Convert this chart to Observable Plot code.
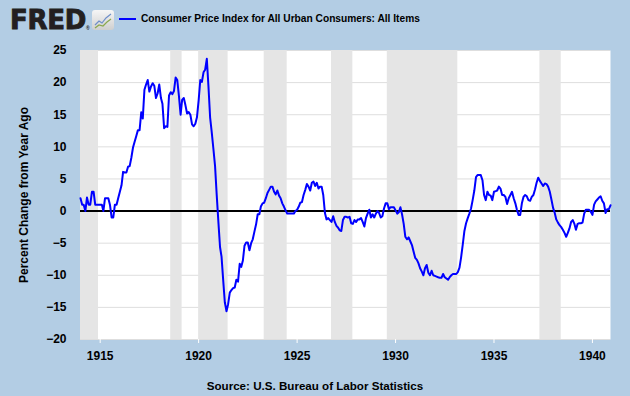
<!DOCTYPE html>
<html>
<head>
<meta charset="utf-8">
<script src="https://cdn.jsdelivr.net/npm/d3@7"></script>
<script src="https://cdn.jsdelivr.net/npm/@observablehq/plot@0.6"></script>
<style>
  html, body { margin: 0; padding: 0; background: #b3cde4; }
  #wrap { position: relative; width: 630px; height: 396px; background: #b3cde4; overflow: hidden;
          font-family: "Liberation Sans", Arial, sans-serif; font-weight: bold; color: #000; }
  #chart { position: absolute; left: 0; top: 0; }
  .abs { position: absolute; white-space: nowrap; }
  #logo { left: 10px; top: 5px; font-family: "DejaVu Sans", sans-serif; font-weight: bold; font-size: 26px;
          line-height: 30px; color: #231f20; letter-spacing: -0.3px; -webkit-text-stroke: 0.9px #231f20; }
  #reg { left: 86px; top: 25px; font-size: 5px; color: #231f20; }
  #icon { left: 92px; top: 10px; width: 22px; height: 20px; border-radius: 3px;
          background: linear-gradient(#f6f6f6, #cfcfcf); }
  #legline { left: 119px; top: 18px; width: 17px; height: 2px; background: #0000ff; }
  #legtext { left: 141px; top: 13px; font-size: 10.2px; line-height: 12px; }
  #source { left: 0; width: 630px; top: 379px; text-align: center; font-size: 11.6px; line-height: 14px; }
</style>
</head>
<body>
<div id="wrap">
  <div id="chart"></div>
  <div class="abs" id="logo">FRED</div>
  <div class="abs" id="reg">®</div>
  <div class="abs" id="icon"><svg width="22" height="20"><polyline points="3,15 7,11 10,13 14,8 19,4" fill="none" stroke="#6f8fc9" stroke-width="1.2"/><polyline points="3,18 7,15 11,16 15,12 19,9" fill="none" stroke="#8aa84e" stroke-width="1.2"/></svg></div>
  <div class="abs" id="legline"></div>
  <div class="abs" id="legtext">Consumer Price Index for All Urban Consumers: All Items</div>
  <div class="abs" id="source">Source: U.S. Bureau of Labor Statistics</div>
</div>
<script>
// Percent change from year ago, monthly (Jan..Dec)
const y1914 = [2.0, 1.0, 1.0, 0.0, 2.1, 1.0, 1.0, 3.0, 3.0, 1.0, 1.0, 1.0];
const y1915 = [1.0, 1.0, 0.0, 2.0, 2.0, 2.0, 1.0, -1.0, -1.0, 1.0, 1.0, 2.0];
const y1916 = [3.0, 4.0, 6.1, 6.0, 6.0, 6.9, 7.0, 8.3, 9.9, 10.8, 11.7, 12.6];
const y1917 = [12.6, 15.4, 14.4, 18.9, 19.7, 20.4, 18.6, 19.4, 19.9, 19.5, 17.6, 18.3];
const y1918 = [19.7, 17.6, 16.7, 12.9, 13.2, 13.1, 18.0, 18.5, 18.2, 18.7, 20.8, 20.4];
const y1919 = [17.9, 15.0, 17.3, 17.6, 16.5, 15.2, 15.4, 15.0, 13.5, 13.2, 13.6, 14.6];
const y1920 = [17.2, 20.4, 20.1, 21.6, 22.0, 23.7, 19.5, 14.6, 12.2, 9.7, 7.0, 2.6];
const y1921 = [-1.6, -5.6, -7.1, -10.8, -14.2, -15.6, -14.5, -12.7, -12.3, -12.0, -11.9, -10.7];
const y1922 = [-11.0, -8.2, -8.7, -7.7, -5.4, -4.9, -4.9, -6.1, -5.0, -4.4, -3.2, -2.1];
const y1923 = [-0.5, -0.5, 0.7, 1.2, 1.3, 2.0, 2.8, 3.3, 3.8, 3.8, 3.0, 2.6];
const y1924 = [3.2, 2.4, 2.0, 1.2, 0.7, 0.1, -0.4, -0.4, -0.4, -0.4, -0.4, 0.0];
const y1925 = [0.2, 0.7, 1.3, 1.4, 2.5, 3.3, 4.2, 3.8, 3.2, 4.4, 4.6, 3.9];
const y1926 = [4.4, 3.5, 3.8, 3.8, 2.5, -0.3, -1.3, -1.1, -1.4, -1.7, -0.8, -1.7];
const y1927 = [-2.3, -2.6, -3.0, -3.1, -1.4, -0.9, -0.9, -1.0, -0.9, -1.9, -2.0, -1.4];
const y1928 = [-1.7, -1.3, -1.3, -1.1, -1.7, -2.4, -1.1, -0.4, 0.2, -1.0, -0.5, -1.0];
const y1929 = [-0.4, 0.0, -0.3, -1.0, -0.8, 0.4, 1.2, 1.2, 0.3, 0.6, 0.6, 0.6];
const y1930 = [0.1, -0.4, -0.2, 0.6, -0.5, -2.0, -4.0, -4.4, -4.1, -4.7, -5.3, -6.3];
const y1931 = [-7.3, -7.6, -8.1, -8.9, -9.4, -10.0, -8.9, -8.4, -9.6, -10.0, -9.3, -10.0];
const y1932 = [-10.1, -10.2, -10.3, -10.4, -10.4, -9.8, -10.3, -10.5, -10.7, -10.3, -10.0, -9.8];
const y1933 = [-9.8, -9.8, -9.5, -8.8, -7.2, -5.2, -3.1, -1.9, -1.1, -0.4, 0.4, 1.7];
const y1934 = [3.2, 5.3, 5.6, 5.6, 5.6, 4.8, 2.5, 1.7, 3.0, 2.5, 2.4, 1.7];
const y1935 = [3.0, 3.1, 3.2, 3.8, 3.5, 2.5, 2.5, 2.2, 1.1, 2.0, 2.5, 3.0];
const y1936 = [2.0, 1.2, 0.2, -0.6, -0.6, 1.2, 2.2, 2.5, 2.3, 1.7, 1.6, 2.2];
const y1937 = [2.5, 3.4, 4.4, 5.2, 4.7, 4.3, 3.9, 4.3, 4.2, 3.8, 3.0, 1.8];
const y1938 = [0.5, -0.3, -1.3, -1.8, -2.2, -2.5, -2.9, -3.4, -4.0, -3.4, -2.7, -1.7];
const y1939 = [-1.4, -2.0, -2.9, -2.0, -1.9, -1.9, -1.8, -0.4, 0.2, 0.2, 0.2, -0.1];
const y1940 = [-0.6, 1.0, 1.5, 1.8, 2.1, 2.3, 1.6, 1.2, -0.3, 0.3, 0.3, 0.9];

const years = [1914, 1915, 1916, 1917, 1918, 1919, 1920, 1921, 1922, 1923, 1924, 1925, 1926, 1927,
               1928, 1929, 1930, 1931, 1932, 1933, 1934, 1935, 1936, 1937, 1938, 1939, 1940];
const yearValues = [y1914, y1915, y1916, y1917, y1918, y1919, y1920, y1921, y1922, y1923, y1924, y1925, y1926, y1927,
                    y1928, y1929, y1930, y1931, y1932, y1933, y1934, y1935, y1936, y1937, y1938, y1939, y1940];

// NBER recessions (peak month, trough month)
const recessionStart = ["1913-01", "1918-08", "1920-01", "1923-05", "1926-10", "1929-08", "1937-05"];
const recessionEnd   = ["1914-12", "1919-03", "1921-07", "1924-07", "1927-11", "1933-03", "1938-06"];

const yTicks = [-20, -15, -10, -5, 0, 5, 10, 15, 20, 25];
const xTickYears = [1915, 1920, 1925, 1930, 1935, 1940];

const parseMonth = d3.utcParse("%Y-%m");
const rows = [];
years.forEach((yr, i) => yearValues[i].forEach((v, m) => rows.push({date: new Date(Date.UTC(yr, m, 1)), value: v})));
const xDomain = [rows[0].date, rows[rows.length - 1].date];
const recessions = recessionStart.map((s, i) => ({
  start: new Date(Math.max(+parseMonth(s), +xDomain[0])),
  end: parseMonth(recessionEnd[i])
}));
const xTicks = xTickYears.map(y => new Date(Date.UTC(y, 0, 1)));

const chart = Plot.plot({
  width: 630,
  height: 396,
  marginLeft: 80,
  marginRight: 20,
  marginTop: 50,
  marginBottom: 57,
  style: {background: "transparent", fontFamily: "Liberation Sans, Arial, sans-serif", fontWeight: "bold", fontSize: "12px", color: "#000", overflow: "visible"},
  x: {type: "utc", domain: xDomain},
  y: {domain: [-20, 25]},
  marks: [
    Plot.frame({fill: "white", stroke: null}),
    Plot.ruleY(yTicks.filter(d => d !== 0), {stroke: "#dedede", strokeWidth: 1}),
    Plot.rectX(recessions, {x1: "start", x2: "end", fill: "#e5e5e5"}),
    Plot.ruleY([0], {stroke: "#000", strokeWidth: 2}),
    Plot.lineY(rows, {x: "date", y: "value", stroke: "#0000ff", strokeWidth: 2}),
    Plot.axisY({ticks: yTicks, tickSize: 0, tickPadding: 14, label: "Percent Change from Year Ago", labelAnchor: "center", labelArrow: "none", labelOffset: 61}),
    Plot.axisX({ticks: xTicks, tickFormat: d3.utcFormat("%Y"), tickSize: 4, tickPadding: 8, stroke: "white", label: null})
  ]
});
document.getElementById("chart").appendChild(chart);
</script>
</body>
</html>
